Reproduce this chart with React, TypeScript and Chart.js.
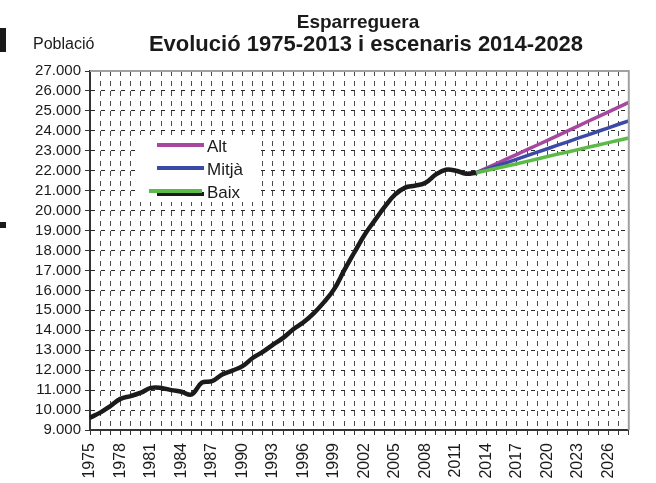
import React, { useEffect, useRef } from 'react';
import { Chart, registerables } from 'chart.js';

Chart.register(...registerables);

const YEARS = [
  '1975', '1976', '1977', '1978', '1979', '1980', '1981', '1982', '1983', '1984',
  '1985', '1986', '1987', '1988', '1989', '1990', '1991', '1992', '1993', '1994',
  '1995', '1996', '1997', '1998', '1999', '2000', '2001', '2002', '2003', '2004',
  '2005', '2006', '2007', '2008', '2009', '2010', '2011', '2012', '2013', '2014',
  '2015', '2016', '2017', '2018', '2019', '2020', '2021', '2022', '2023', '2024',
  '2025', '2026', '2027', '2028',
];

const HIST_YEARS = YEARS.slice(0, 39);
const HISTORICAL = [
  9620, 9870, 10200, 10560, 10700, 10870, 11110, 11110, 11000, 10920,
  10780, 11370, 11450, 11780, 11980, 12200, 12610, 12920, 13280, 13620,
  14050, 14400, 14850, 15400, 16050, 17000, 17900, 18780, 19500, 20200,
  20800, 21150, 21250, 21400, 21800, 22050, 22000, 21850, 21900,
];

const PROJ_YEARS = YEARS.slice(38);
const ALT = [21900, 22130, 22360, 22590, 22820, 23060, 23290, 23520, 23760, 24000, 24240, 24480, 24710, 24950, 25190, 25430];
const MITJA = [21900, 22070, 22240, 22410, 22580, 22760, 22930, 23100, 23280, 23450, 23630, 23800, 23980, 24150, 24330, 24500];
const BAIX = [21900, 22010, 22120, 22240, 22350, 22470, 22590, 22710, 22830, 22940, 23060, 23180, 23290, 23410, 23530, 23640];

const TITLE_LINES = ['Esparreguera', 'Evolució 1975-2013 i escenaris 2014-2028'];
const Y_TITLE = 'Població';
const Y_MIN = 9000;
const Y_MAX = 27000;
const Y_STEP = 1000;

const FONT = '"Liberation Sans", Arial, Helvetica, sans-serif';

const fmt = (v: number) => {
  const th = Math.floor(v / 1000);
  const rest = String(Math.round(v % 1000)).padStart(3, '0');
  return `${th}.${rest}`;
};

const decorPlugin = {
  id: 'decor',
  beforeDraw(chart: any) {
    const ctx = chart.ctx;
    ctx.save();
    ctx.fillStyle = '#ffffff';
    ctx.fillRect(0, 0, chart.width, chart.height);
    ctx.restore();
  },
  afterDraw(chart: any) {
    const ctx = chart.ctx;
    const a = chart.chartArea;
    ctx.save();
    // top and right frame
    ctx.strokeStyle = '#a0a0a0';
    ctx.lineWidth = 2;
    ctx.beginPath();
    ctx.moveTo(a.left, a.top);
    ctx.lineTo(a.right, a.top);
    ctx.lineTo(a.right, a.bottom);
    ctx.stroke();

    // titles
    ctx.fillStyle = '#1a1a1a';
    ctx.textAlign = 'center';
    ctx.textBaseline = 'alphabetic';
    ctx.font = `bold 19px ${FONT}`;
    ctx.fillText(TITLE_LINES[0], 358, 28);
    ctx.font = `bold 22px ${FONT}`;
    ctx.fillText(TITLE_LINES[1], 366, 51);

    ctx.textAlign = 'left';
    ctx.font = `16px ${FONT}`;
    ctx.fillText(Y_TITLE, 33, 49);

    // legend
    const lx = a.left + 45;
    const ly = a.top + 64;
    ctx.fillStyle = '#ffffff';
    ctx.fillRect(lx, ly, 122, 67);
    const items = chart.data.datasets.filter((d: any) => d.showInLegend);
    items.sort((p: any, q: any) => p.legendIndex - q.legendIndex);
    const hist = chart.data.datasets.find((d: any) => !d.showInLegend);
    items.forEach((d: any, i: number) => {
      const y = ly + 10 + i * 23;
      if (i === items.length - 1 && hist) {
        ctx.strokeStyle = hist.borderColor;
        ctx.lineWidth = 4;
        ctx.beginPath();
        ctx.moveTo(lx + 22, y + 3);
        ctx.lineTo(lx + 69, y + 3);
        ctx.stroke();
        ctx.strokeStyle = d.borderColor;
        ctx.lineWidth = 4;
        ctx.beginPath();
        ctx.moveTo(lx + 14, y);
        ctx.lineTo(lx + 67, y);
        ctx.stroke();
      } else {
        ctx.strokeStyle = d.borderColor;
        ctx.lineWidth = 4;
        ctx.beginPath();
        ctx.moveTo(lx + 22, y);
        ctx.lineTo(lx + 69, y);
        ctx.stroke();
      }
      ctx.fillStyle = '#1a1a1a';
      ctx.font = `17px ${FONT}`;
      ctx.textBaseline = 'middle';
      ctx.fillText(d.label, lx + 72, y + 2);
    });
    ctx.restore();
  },
};

export default function App() {
  const ref = useRef<HTMLCanvasElement | null>(null);

  useEffect(() => {
    if (!ref.current) return;
    const toPts = (xs: string[], ys: number[]) => xs.map((x, i) => ({ x, y: ys[i] }));
    const chart = new Chart(ref.current, {
      type: 'line',
      data: {
        labels: YEARS,
        datasets: [
          {
            label: 'Alt',
            data: toPts(PROJ_YEARS, ALT),
            borderColor: '#a8479f',
            borderWidth: 3.5,
            pointRadius: 0,
            tension: 0,
            order: 2,
            showInLegend: true,
            legendIndex: 0,
          } as any,
          {
            label: 'Mitjà',
            data: toPts(PROJ_YEARS, MITJA),
            borderColor: '#3a4aa6',
            borderWidth: 3.5,
            pointRadius: 0,
            tension: 0,
            order: 1,
            showInLegend: true,
            legendIndex: 1,
          } as any,
          {
            label: 'Baix',
            data: toPts(PROJ_YEARS, BAIX),
            borderColor: '#5cbb47',
            borderWidth: 3.5,
            pointRadius: 0,
            tension: 0,
            order: 0,
            showInLegend: true,
            legendIndex: 2,
          } as any,
          {
            label: 'Població 1975-2013',
            data: toPts(HIST_YEARS, HISTORICAL),
            borderColor: '#1c1a1c',
            borderWidth: 4.5,
            pointRadius: 0,
            tension: 0.4,
            order: 3,
            showInLegend: false,
          } as any,
        ],
      },
      options: {
        animation: false,
        responsive: false,
        maintainAspectRatio: false,
        layout: { padding: { top: 71, right: 3, left: 0, bottom: 0 } },
        plugins: {
          legend: { display: false },
          title: { display: false },
          tooltip: { enabled: false },
        },
        scales: {
          x: {
            type: 'category',
            offset: false,
            grid: {
              color: '#4a4a4a',
              lineWidth: 1,
              drawTicks: true,
              tickLength: 5,
              tickColor: '#333333',
              tickWidth: 1,
            },
            border: { display: true, color: '#333333', width: 2, dash: [5, 5] },
            ticks: {
              autoSkip: false,
              maxRotation: 90,
              minRotation: 90,
              padding: 8,
              color: '#1a1a1a',
              font: { family: FONT, size: 16 },
              callback: (_v: any, i: number) => (i % 3 === 0 ? YEARS[i] : ''),
            },
            afterFit: (s: any) => {
              s.height = 53;
            },
          },
          y: {
            min: Y_MIN,
            max: Y_MAX,
            grid: {
              color: '#2a2a2a',
              lineWidth: 1,
              drawTicks: true,
              tickLength: 5,
              tickColor: '#333333',
              tickWidth: 1,
            },
            border: { display: true, color: '#333333', width: 2, dash: [4, 6] },
            ticks: {
              autoSkip: false,
              stepSize: Y_STEP,
              padding: 4,
              color: '#1a1a1a',
              font: { family: FONT, size: 15 },
              callback: (v: any) => fmt(Number(v)),
            },
            afterFit: (s: any) => {
              s.width = 90;
            },
          },
        },
      },
      plugins: [decorPlugin],
    });
    return () => chart.destroy();
  }, []);

  return (
    <div style={{ position: 'absolute', left: 0, top: 0, width: 656, height: 483, background: '#fff' }}>
      <canvas ref={ref} width={656} height={483} style={{ display: 'block' }} />
      <div style={{ position: 'absolute', left: 0, top: 28, width: 6, height: 24, background: '#1a1a1a' }} />
      <div style={{ position: 'absolute', left: 0, top: 222, width: 6, height: 6, background: '#1a1a1a' }} />
    </div>
  );
}
